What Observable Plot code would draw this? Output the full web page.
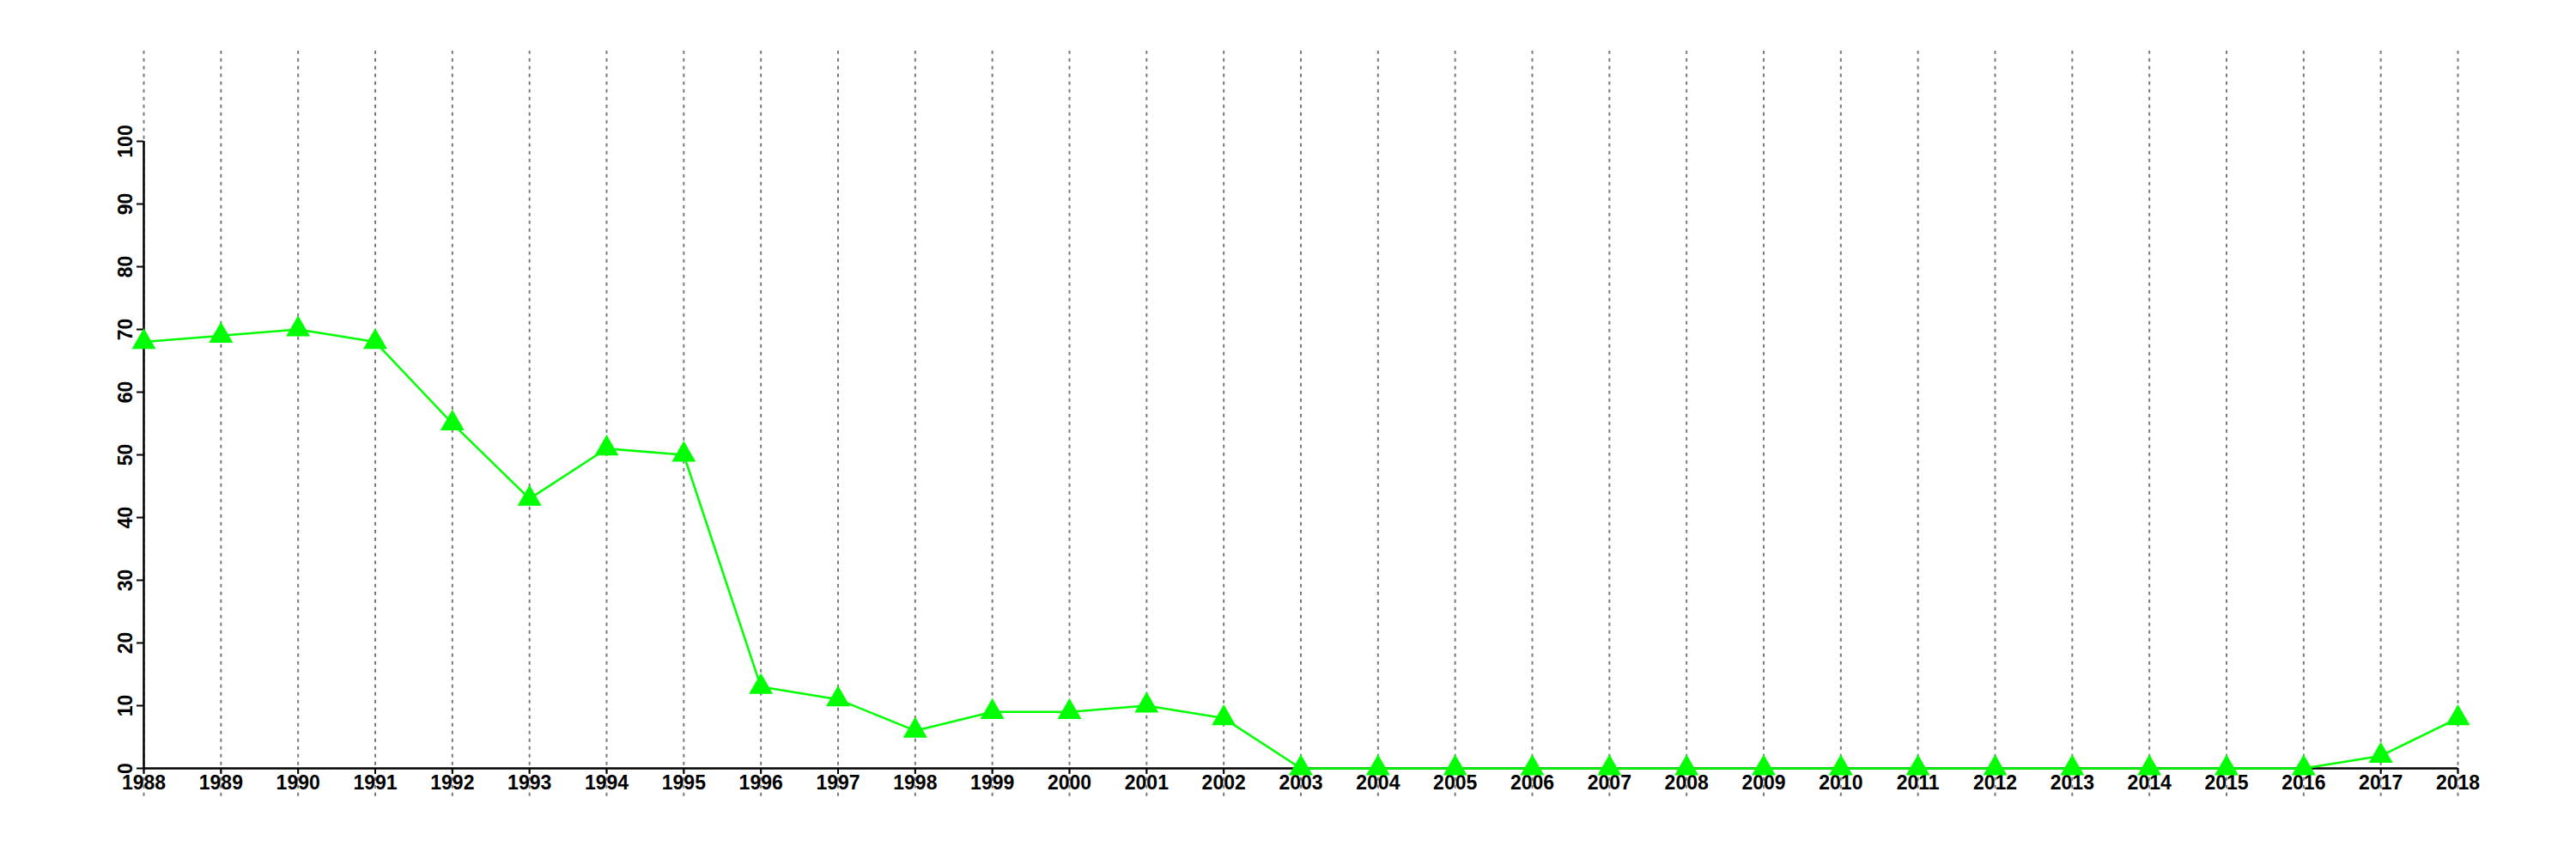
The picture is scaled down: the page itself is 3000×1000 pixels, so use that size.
<!DOCTYPE html>
<html>
<head>
<meta charset="utf-8">
<script src="https://cdn.jsdelivr.net/npm/d3@7"></script>
<script src="https://cdn.jsdelivr.net/npm/@observablehq/plot@0.6"></script>
<style>
  html, body { margin: 0; padding: 0; background: #fff; }
  #chart svg { display: block; }
</style>
</head>
<body>
<div id="chart"></div>
<script>
const years = d3.range(1988, 2019);
const values = [68, 69, 70, 68, 55, 43, 51, 50, 13, 11, 6, 9, 9, 10, 8,
                0, 0, 0, 0, 0, 0, 0, 0, 0, 0, 0, 0, 0, 0, 2, 8];
const yTicks = [0, 10, 20, 30, 40, 50, 60, 70, 80, 90, 100];

const data = years.map((y, i) => ({year: y, value: values[i]}));

const font = "'Liberation Sans', Arial, Helvetica, sans-serif";

const chart = Plot.plot({
  width: 3000,
  height: 1000,
  marginLeft: 167,
  marginRight: 138,
  marginTop: 164,
  marginBottom: 106,
  style: {fontFamily: font, fontSize: "23px", fontWeight: "bold", background: "#fff", color: "#000"},
  x: {type: "linear", domain: [1988, 2018]},
  y: {type: "linear", domain: [0, 100]},
  marks: [
    Plot.ruleX(years, {x: d => d, y1: -4.5, y2: 114.4, stroke: "#7a7a7a", strokeWidth: 2, strokeDasharray: "4,5", clip: false}),
    Plot.ruleY([0], {x1: years[0], x2: years[years.length - 1], stroke: "#000", strokeWidth: 2.5}),
    Plot.ruleX([years[0]], {y1: yTicks[0], y2: yTicks[yTicks.length - 1], stroke: "#000", strokeWidth: 2.5}),
    Plot.axisX({ticks: years, tickFormat: d => String(d), tickSize: 7, tickPadding: 1, strokeWidth: 2, fontSize: 23, fontWeight: "bold", label: null}),
    Plot.axisY({ticks: yTicks, tickFormat: d => String(d), tickSize: 8, tickPadding: 6, tickRotate: -90, strokeWidth: 2, fontSize: 23, fontWeight: "bold", label: null}),
    Plot.line(data, {x: "year", y: "value", stroke: "#00ff00", strokeWidth: 2.5}),
    Plot.dot(data, {x: "year", y: "value", symbol: "triangle", r: 10.4, fill: "#00ff00", stroke: "none"})
  ]
});
document.getElementById("chart").appendChild(chart);
</script>
</body>
</html>
